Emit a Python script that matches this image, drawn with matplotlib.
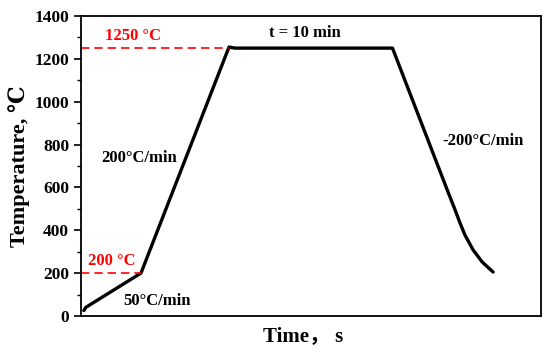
import matplotlib
matplotlib.use('Agg')
import matplotlib.pyplot as plt
from matplotlib.ticker import MultipleLocator

# heat treatment profile (time in s, temperature in degC)
time_s = [0, 7, 209, 531, 553, 1129, 1332, 1358, 1376, 1394, 1424, 1457, 1497]
temp_c = [25, 40, 200, 1255, 1250, 1250, 579, 495, 434, 378, 308, 252, 205]

# reference levels
levels = [200, 1250]
level_end = [209, 531]
level_labels = ['200 °C', '1250 °C']

serif = ['Liberation Serif', 'DejaVu Serif', 'Noto Sans CJK SC']
plt.rcParams['font.family'] = serif
plt.rcParams['font.weight'] = 'bold'

fig = plt.figure(figsize=(5.5, 3.55), dpi=100)
ax = fig.add_axes([0.147, 0.110, 0.837, 0.845])

xmin, xmax = -11, 1673
ax.plot(time_s, temp_c, color='black', lw=2.4, solid_capstyle='round',
        solid_joinstyle='round')

# dashed red guides
for lev, xe in zip(levels, level_end):
    ax.plot([xmin, xe], [lev, lev], color='red', lw=1.2, ls=(0, (5, 3)))

ax.text(76, 1290, level_labels[1], color='red', fontsize=12, fontweight='bold')
ax.text(15, 240, level_labels[0], color='red', fontsize=12, fontweight='bold')
ax.text(810, 1300, 't = 10 min', fontsize=12, fontweight='bold', ha='center')
ax.text(65, 720, '200°C/min', fontsize=12, fontweight='bold')
ax.text(1310, 800, '-200°C/min', fontsize=12, fontweight='bold')
ax.text(145, 50, '50°C/min', fontsize=12, fontweight='bold')

ax.set_xlim(xmin, xmax)
ax.set_ylim(0, 1400)
ax.yaxis.set_major_locator(MultipleLocator(200))
ax.yaxis.set_minor_locator(MultipleLocator(100))
ax.set_xticks([])
ax.tick_params(axis='y', which='major', length=5, width=1.2, labelsize=12.5)
ax.tick_params(axis='y', which='minor', length=3, width=1.0)
for lab in ax.get_yticklabels():
    lab.set_fontweight('bold')
for sp in ax.spines.values():
    sp.set_linewidth(1.3)

ax.set_ylabel('Temperature, ℃', fontsize=16, fontweight='bold', labelpad=3)
ax.set_xlabel('Time， s', fontsize=15, fontweight='bold', labelpad=8)
ax.xaxis.set_label_coords(0.482, -0.035)

fig.savefig('out.png', dpi=100)
